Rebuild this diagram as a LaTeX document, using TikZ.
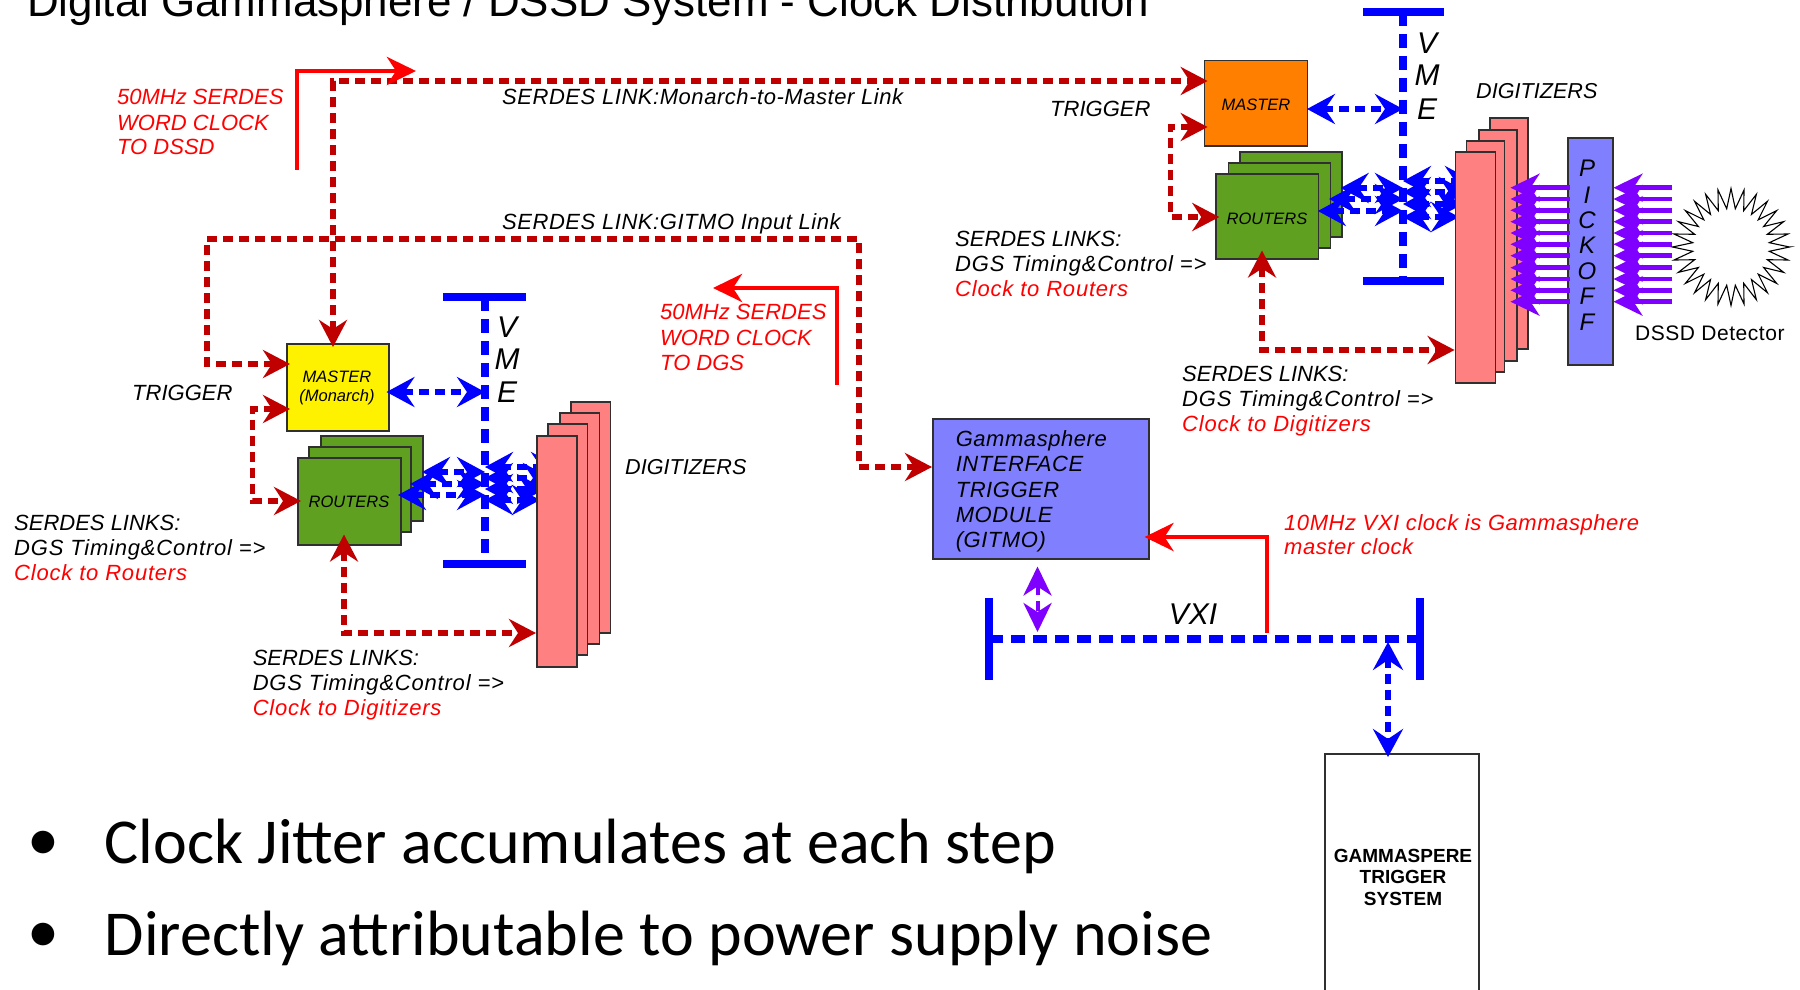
\documentclass[tikz,border=0pt]{standalone}
\usepackage{fontspec}
\setmainfont{Liberation Sans}
\newfontfamily\carl{Carlito}
\newfontfamily\wide[LetterSpace=2.5]{Liberation Sans}
\newfontfamily\wider[LetterSpace=3.6]{Liberation Sans}
\usetikzlibrary{arrows.meta}
\definecolor{dkred}{HTML}{C00000}
\definecolor{brred}{HTML}{FF0000}
\definecolor{blu}{HTML}{0000FF}
\definecolor{purp}{HTML}{8000FF}
\definecolor{grn}{HTML}{60A020}
\definecolor{pnk}{HTML}{FF8080}
\definecolor{peri}{HTML}{8080FF}
\definecolor{org}{HTML}{FF8000}
\definecolor{edge}{HTML}{303030}
\tikzset{
 rh/.tip={Stealth[length=27pt,width=28pt,inset=9pt]},
 bh/.tip={Stealth[length=28pt,width=30pt,inset=10pt]},
 ph/.tip={Stealth[length=29pt,width=28pt,inset=9pt]},
 sh/.tip={Stealth[length=29pt,width=28pt,inset=9pt]},
 redlink/.style={draw=dkred,line width=5.5pt,dash pattern=on 10pt off 6pt,{rh}-{rh}},
 bluelink/.style={draw=blu,line width=5.5pt,dash pattern=on 10pt off 6pt,{bh}-{bh}},
 purplink/.style={draw=purp,line width=4pt,dash pattern=on 10pt off 6pt,{ph}-{ph}},
 purpray/.style={draw=purp,line width=4.5pt,-{ph}},
 clockline/.style={draw=brred,line width=4.5pt,-{sh}},
 busbar/.style={draw=blu,line width=8pt},
 busdash/.style={draw=blu,line width=7.5pt,dash pattern=on 14pt off 8pt},
 panel/.style={draw=edge,line width=1.5pt,anchor=north west,inner sep=0pt},
 boxp/.style={panel,xshift=-1pt},
 lab/.style={anchor=base west,inner sep=0pt,font=\wide\itshape\fontsize{22}{25.5}\selectfont,align=left},
 plainlab/.style={lab,font=\itshape\fontsize{22}{25}\selectfont},
 widelab/.style={lab,font=\wider\itshape\fontsize{22}{25}\selectfont},
 redlab/.style={plainlab,text=brred},
 boxlab/.style={inner sep=0pt,font=\itshape\fontsize{16.5}{19}\selectfont},
 vmeletter/.style={inner sep=0pt,font=\itshape\fontsize{30}{31}\selectfont},
 pickletter/.style={inner sep=0pt,font=\itshape\fontsize{24}{26}\selectfont},
 bulletline/.style={anchor=base west,inner sep=0pt,font=\carl\fontsize{64}{70}\selectfont},
}
\begin{document}
\begin{tikzpicture}[x=1pt,y=-1pt]
\useasboundingbox (0,0) rectangle (1800,990);
\clip (0,0) rectangle (1800,990);
\fill[white] (0,0) rectangle (1800,990);

\node[anchor=base west,inner sep=0pt,font=\fontsize{43.9}{50}\selectfont] (title) at (27,17) {Digital Gammasphere / DSSD System - Clock Distribution};

% ---------- coordinates
\coordinate (monA) at (333,81);
\coordinate (gA) at (207,364);
\coordinate (gB) at (207,239);
\coordinate (gC) at (859,239);
\coordinate (gD) at (859,467);
\coordinate (tA) at (252.6,409);
\coordinate (tB) at (252.6,501);
\coordinate (rA) at (344,633);
\coordinate (tC) at (1170.7,127);
\coordinate (tD) at (1170.7,217);
\coordinate (rB) at (1262,350);

% ---------- left group panels
\foreach \n/\xx/\yy in {rc/321/435,rb/309/446}
  \node[boxp,fill=grn,minimum width=102pt,minimum height=85pt] (\n) at (\xx,\yy) {};
\node[boxp,fill=grn,minimum width=103pt,minimum height=87pt] (rf) at (298,457) {};
\node[boxlab] (rfl) at (349,502) {ROUTERS};
\node[boxp,fill=yellow,minimum width=102pt,minimum height=87pt] (mon) at (287,343) {};
\node[boxlab] (monl) at (337,377) {MASTER};
\node[boxlab] (monm) at (337,397.5) {(Monarch)};

% ---------- right group panels
\foreach \n/\xx/\yy in {qc/1240/151,qb/1228.7/162}
  \node[boxp,fill=grn,minimum width=102pt,minimum height=85pt] (\n) at (\xx,\yy) {};
\node[boxp,fill=grn,minimum width=102.4pt,minimum height=85pt] (qf) at (1216.3,173) {};
\node[boxlab] (qfl) at (1267,218.5) {ROUTERS};
\node[boxp,fill=org,minimum width=102.8pt,minimum height=85pt] (master) at (1204.7,60) {};
\node[boxlab] (masterl) at (1256,104.5) {MASTER};

% ---------- VME left
\coordinate (vlT) at (485,297);
\coordinate (vlB) at (485,564);
\draw[busdash] (vlT) -- (vlB);
\draw[busbar] (443,297) -- (vlT) -- (526,297);
\draw[busbar] (443,564) -- (vlB) -- (526,564);
\node[vmeletter] (v1) at (507,327) {V};
\node[vmeletter] (m1) at (507,359) {M};
\node[vmeletter] (e1) at (507,392) {E};

% ---------- VME right
\coordinate (vrT) at (1403,12);
\coordinate (vrB) at (1403,281);
\draw[busdash] (vrT) -- (vrB);
\draw[busbar] (1363,12) -- (vrT) -- (1444,12);
\draw[busbar] (1363,281) -- (vrB) -- (1444,281);
\node[vmeletter] (v2) at (1427,43.5) {V};
\node[vmeletter] (m2) at (1427,75) {M};
\node[vmeletter] (e2) at (1427,109) {E};

% ---------- blue links
\draw[bluelink,shorten <=-3pt] (mon.east |- e1) -- (vlT |- e1);
\draw[bluelink,shorten <=-1pt] (master.east |- e2) -- (vrT |- e2);
\foreach \i/\xx/\yy in {1/398/495,2/410/484,3/422/472} {
  \coordinate (ra\i) at (\xx,\yy);
  \draw[bluelink] (ra\i) -- (vlT |- ra\i);
}
\foreach \i/\xx/\yy in {1/559/467,2/551/478,3/545/489,4/540/500} {
  \coordinate (da\i) at (\xx,\yy);
  \draw[bluelink] (vlT |- da\i) -- (da\i);
}
\foreach \i/\xx/\yy in {1/1317.8/211,2/1329/199,3/1340.6/188} {
  \coordinate (qa\i) at (\xx,\yy);
  \draw[bluelink] (qa\i) -- (vrT |- qa\i);
}
\foreach \i/\xx/\yy in {1/1473/181,2/1467/192,3/1463/204,4/1459/217} {
  \coordinate (ea\i) at (\xx,\yy);
  \draw[bluelink] (vrT |- ea\i) -- (ea\i);
}

% ---------- digitizers
\foreach \n/\xx/\yy in {dd/570/401,dc/559/412,db/547/423}
  \node[panel,fill=pnk,minimum width=39.5pt,minimum height=231pt] (\n) at (\xx,\yy) {};
\node[panel,fill=pnk,minimum width=40pt,minimum height=231pt] (df) at (536,435) {};
\foreach \n/\xx/\yy in {pd/1489.4/117,pc/1478/129,pb/1465.8/140}
  \node[panel,fill=pnk,minimum width=38pt,minimum height=231pt] (\n) at (\xx,\yy) {};
\node[panel,fill=pnk,minimum width=40pt,minimum height=231pt] (pf) at (1454.6,151) {};

% ---------- pickoff
\node[boxp,fill=peri,minimum width=45pt,minimum height=227pt] (pick) at (1568,137) {};
\foreach \n/\yy/\t in {p1/168/P,p2/195/I,p3/220/C,p4/245/K,p5/271/O,p6/296/F,p7/322/F}
  \node[pickletter] (\n) at (1587,\yy) {\t};

% ---------- purple rays
\foreach \i/\yy in {1/187.7,2/199,3/210.3,4/221.7,5/233,6/244.3,7/255.7,8/267.7,9/279,10/290.3,11/301.7} {
  \coordinate (pa\i) at (1510.5,\yy);
  \coordinate (pb\i) at (1672,\yy);
  \draw[purpray,shorten <=-3pt] (pick.west |- pa\i) -- (pa\i);
  \draw[purpray] (pb\i) -- (pick.east |- pa\i);
}

% ---------- detector
\draw[black,line width=1.1pt] plot[samples=57,domain=0:56] ({1731+(48.5+10*cos(180*\x))*cos(6.42857*\x)},{247+(48.5+10*cos(180*\x))*sin(6.42857*\x)}) -- cycle;
\node[anchor=base west,inner sep=0pt,font=\wide\fontsize{21}{24}\selectfont] (dssd) at (1635,340) {DSSD Detector};

% ---------- red dashed links
\draw[redlink,shorten <=-4pt,shorten >=-4pt] (mon.north -| monA) -- (monA) -- (master.west |- monA);
\draw[redlink,shorten <=-4pt] (mon.west |- gA) -- (gA) -- (gB) -- (gC) -- (gD) -- (932,467);
\draw[redlink,shorten <=-4pt,shorten >=-4pt] (mon.west |- tA) -- (tA) -- (tB) -- (rf.west |- tB);
\draw[redlink,shorten <=-11pt] (rf.south -| rA) -- (rA) -- (df.west |- rA);
\draw[redlink,shorten <=-4pt,shorten >=-4pt] (master.west |- tC) -- (tC) -- (tD) -- (qf.west |- tD);
\draw[redlink,shorten <=-9pt] (qf.south -| rB) -- (rB) -- (pf.west |- rB);

% ---------- solid red clocks
\coordinate (ck1) at (297,170);
\coordinate (ck1b) at (297,71);
\coordinate (ck1c) at (416,71);
\draw[clockline] (ck1) -- (ck1b) -- (ck1c);
\coordinate (ck2) at (837,385);
\coordinate (ck2b) at (837,288);
\coordinate (ck2c) at (713,288);
\draw[clockline] (ck2) -- (ck2b) -- (ck2c);

% ---------- GITMO
\node[boxp,fill=peri,minimum width=216pt,minimum height=140pt] (gitmo) at (933,418) {};
\node[lab] (gt1) at (955.6,446) {Gammasphere};
\node[lab] (gt2) at (955.6,471) {INTERFACE};
\node[lab] (gt3) at (955.6,497) {TRIGGER};
\node[lab] (gt4) at (955.6,522) {MODULE};
\node[lab] (gt5) at (955.6,547) {(GITMO)};

% ---------- VXI
\coordinate (vxL) at (989,639);
\coordinate (vxR) at (1420,639);
\draw[busdash] (vxL) -- (vxR);
\draw[busbar] (989,598) -- (vxL) -- (989,680);
\draw[busbar] (1420,598) -- (vxR) -- (1420,680);
\node[vmeletter] (vxi) at (1193,614) {VXI};
\coordinate (ck3) at (1267,633);
\coordinate (ck3b) at (1267,537);
\draw[clockline,shorten >=-5pt] (ck3) -- (ck3b) -- (gitmo.east |- ck3b);
\coordinate (pl) at (1037.5,632);
\draw[purplink] (gitmo.south -| pl) ++(0,7) -- (pl);
\node[boxp,draw=edge,minimum width=154pt,minimum height=260pt] (gts) at (1325,753) {};
\node[inner sep=0pt,align=center,font=\bfseries\fontsize{19}{21.5}\selectfont] (gtsl) at (1403,877) {GAMMASPERE\\TRIGGER\\SYSTEM};
\coordinate (bl) at (1388,642);
\draw[bluelink,shorten >=-4pt] (bl) -- (gts.north -| bl);

% ---------- labels
\node[redlab] (a1) at (117,105) {50MHz SERDES};
\node[redlab] (a2) at (117,130) {WORD CLOCK};
\node[redlab] (a3) at (117,154) {TO DSSD};
\node[lab] (b1) at (502,104) {SERDES LINK:Monarch-to-Master Link};
\node[lab] (b2) at (502,229) {SERDES LINK:GITMO Input Link};
\node[plainlab] (c1) at (132,400) {TRIGGER};
\node[plainlab] (c2) at (1050,116) {TRIGGER};
\node[plainlab,font=\itshape\fontsize{21.6}{25}\selectfont] (c3) at (1476,99) {DIGITIZERS};
\node[plainlab,font=\itshape\fontsize{21.6}{25}\selectfont] (c4) at (625,474) {DIGITIZERS};
\node[redlab] (d1) at (660,319) {50MHz SERDES};
\node[redlab] (d2) at (660,345) {WORD CLOCK};
\node[redlab] (d3) at (660,370) {TO DGS};
\foreach \n/\xx/\yy/\t in {e1a/14/530/Routers,e2a/252.6/665/Digitizers,e3a/955/246/Routers,e4a/1182/381/Digitizers} {
  \node[plainlab] (\n a) at (\xx,\yy) {SERDES LINKS:};
  \node[widelab] (\n b) at (\xx,\yy+25) {DGS Timing\&Control =>};
  \node[widelab,text=brred] (\n c) at (\xx,\yy+50) {Clock to \t};
}
\node[lab,text=brred] (f1) at (1284,530) {10MHz VXI clock is Gammasphere};
\node[lab,text=brred] (f2) at (1284,554) {master clock};

% ---------- bullets
\node[bulletline] (h1) at (27,860) {•};
\node[bulletline] (h2) at (27,952) {•};
\node[bulletline] (t1) at (104.5,863) {Clock Jitter accumulates at each step};
\node[bulletline] (t2) at (104.5,955) {Directly attributable to power supply noise};
\end{tikzpicture}
\end{document}
